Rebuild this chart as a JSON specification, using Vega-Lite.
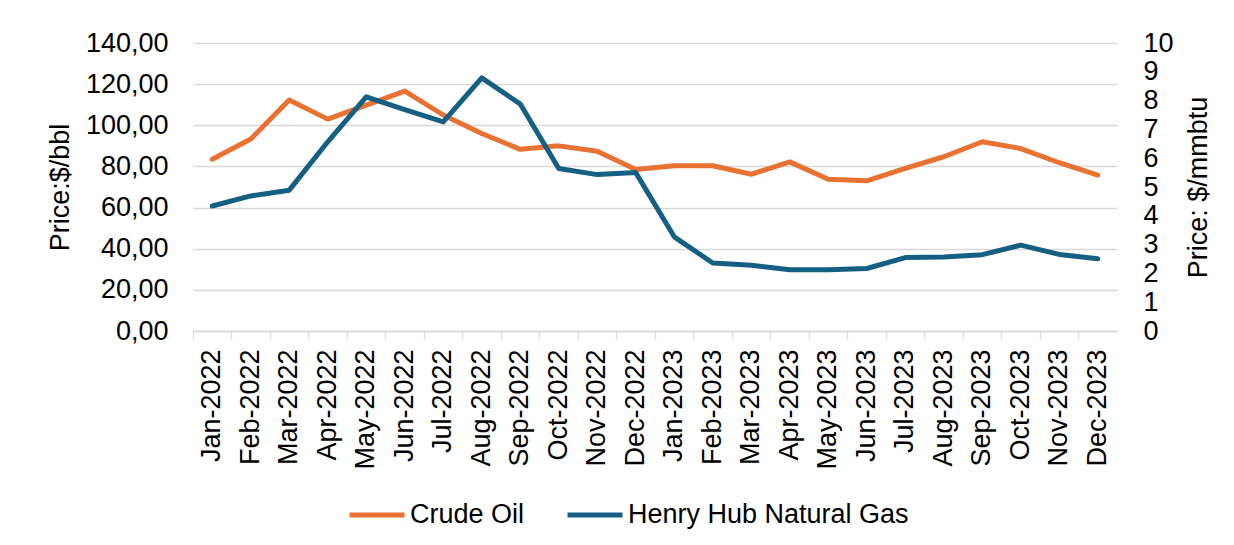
{
  "$schema": "https://vega.github.io/schema/vega-lite/v6.json",
  "autosize": {"type": "none"},
  "padding": {"left": 193, "top": 43, "right": 117, "bottom": 214},
  "width": 924,
  "height": 288,
  "background": "white",
  "config": {
    "view": {"stroke": null},
    "font": "Liberation Sans",
    "axis": {"labelFont": "Liberation Sans", "titleFont": "Liberation Sans", "labelFontSize": 27, "titleFontSize": 27, "labelColor": "#000000", "titleColor": "#000000", "titleFontWeight": "normal"},
    "legend": {"labelFont": "Liberation Sans", "labelFontSize": 27, "labelColor": "#000000", "labelLimit": 0}
  },
  "data": {
    "values": [
      {"month": "Jan-2022", "series": "Crude Oil", "price": 83.5},
      {"month": "Feb-2022", "series": "Crude Oil", "price": 93.3},
      {"month": "Mar-2022", "series": "Crude Oil", "price": 112.3},
      {"month": "Apr-2022", "series": "Crude Oil", "price": 103.0},
      {"month": "May-2022", "series": "Crude Oil", "price": 109.8},
      {"month": "Jun-2022", "series": "Crude Oil", "price": 116.6},
      {"month": "Jul-2022", "series": "Crude Oil", "price": 105.0},
      {"month": "Aug-2022", "series": "Crude Oil", "price": 96.0},
      {"month": "Sep-2022", "series": "Crude Oil", "price": 88.3},
      {"month": "Oct-2022", "series": "Crude Oil", "price": 90.0},
      {"month": "Nov-2022", "series": "Crude Oil", "price": 87.4},
      {"month": "Dec-2022", "series": "Crude Oil", "price": 78.5},
      {"month": "Jan-2023", "series": "Crude Oil", "price": 80.3},
      {"month": "Feb-2023", "series": "Crude Oil", "price": 80.3},
      {"month": "Mar-2023", "series": "Crude Oil", "price": 76.2},
      {"month": "Apr-2023", "series": "Crude Oil", "price": 82.2},
      {"month": "May-2023", "series": "Crude Oil", "price": 73.8},
      {"month": "Jun-2023", "series": "Crude Oil", "price": 73.0},
      {"month": "Jul-2023", "series": "Crude Oil", "price": 79.0},
      {"month": "Aug-2023", "series": "Crude Oil", "price": 84.7},
      {"month": "Sep-2023", "series": "Crude Oil", "price": 92.0},
      {"month": "Oct-2023", "series": "Crude Oil", "price": 88.7},
      {"month": "Nov-2023", "series": "Crude Oil", "price": 81.8},
      {"month": "Dec-2023", "series": "Crude Oil", "price": 75.8},
      {"month": "Jan-2022", "series": "Henry Hub Natural Gas", "price": 4.34},
      {"month": "Feb-2022", "series": "Henry Hub Natural Gas", "price": 4.69},
      {"month": "Mar-2022", "series": "Henry Hub Natural Gas", "price": 4.89},
      {"month": "Apr-2022", "series": "Henry Hub Natural Gas", "price": 6.57},
      {"month": "May-2022", "series": "Henry Hub Natural Gas", "price": 8.13},
      {"month": "Jun-2022", "series": "Henry Hub Natural Gas", "price": 7.69},
      {"month": "Jul-2022", "series": "Henry Hub Natural Gas", "price": 7.26},
      {"month": "Aug-2022", "series": "Henry Hub Natural Gas", "price": 8.79},
      {"month": "Sep-2022", "series": "Henry Hub Natural Gas", "price": 7.88},
      {"month": "Oct-2022", "series": "Henry Hub Natural Gas", "price": 5.64},
      {"month": "Nov-2022", "series": "Henry Hub Natural Gas", "price": 5.43},
      {"month": "Dec-2022", "series": "Henry Hub Natural Gas", "price": 5.50},
      {"month": "Jan-2023", "series": "Henry Hub Natural Gas", "price": 3.27},
      {"month": "Feb-2023", "series": "Henry Hub Natural Gas", "price": 2.36},
      {"month": "Mar-2023", "series": "Henry Hub Natural Gas", "price": 2.28},
      {"month": "Apr-2023", "series": "Henry Hub Natural Gas", "price": 2.13},
      {"month": "May-2023", "series": "Henry Hub Natural Gas", "price": 2.13},
      {"month": "Jun-2023", "series": "Henry Hub Natural Gas", "price": 2.17},
      {"month": "Jul-2023", "series": "Henry Hub Natural Gas", "price": 2.55},
      {"month": "Aug-2023", "series": "Henry Hub Natural Gas", "price": 2.57},
      {"month": "Sep-2023", "series": "Henry Hub Natural Gas", "price": 2.65},
      {"month": "Oct-2023", "series": "Henry Hub Natural Gas", "price": 2.98},
      {"month": "Nov-2023", "series": "Henry Hub Natural Gas", "price": 2.66},
      {"month": "Dec-2023", "series": "Henry Hub Natural Gas", "price": 2.51}
    ]
  },
  "encoding": {
    "x": {
      "field": "month",
      "type": "nominal",
      "sort": null,
      "scale": {"type": "band", "paddingInner": 0, "paddingOuter": 0},
      "axis": {
        "title": null,
        "bandPosition": 0,
        "labelAngle": -90,
        "labelAlign": "right",
        "labelBaseline": "middle",
        "labelPadding": 10,
        "ticks": true,
        "tickSize": 8,
        "tickColor": "#d9d9d9",
        "tickWidth": 1.3,
        "domain": true,
        "domainColor": "#d9d9d9",
        "domainWidth": 1.3,
        "grid": false
      }
    },
    "color": {
      "field": "series",
      "type": "nominal",
      "scale": {"domain": ["Crude Oil", "Henry Hub Natural Gas"], "range": ["#E97132", "#156082"]},
      "legend": {
        "title": null,
        "orient": "none",
        "direction": "horizontal",
        "legendX": 154,
        "legendY": 442,
        "padding": 0,
        "symbolType": "stroke",
        "symbolSize": 3025,
        "symbolStrokeWidth": 5,
        "labelOffset": 3,
        "columnPadding": 32
      }
    }
  },
  "layer": [
    {
      "transform": [{"filter": "datum.series === 'Crude Oil'"}],
      "mark": {"type": "line", "strokeWidth": 5, "strokeCap": "round", "strokeJoin": "round"},
      "encoding": {
        "y": {
          "field": "price",
          "type": "quantitative",
          "scale": {"domain": [0, 140], "nice": false},
          "axis": {
            "title": "Price:$/bbl",
            "orient": "left",
            "values": [0, 20, 40, 60, 80, 100, 120, 140],
            "labelExpr": "replace(format(datum.value, '.2f'), '.', ',')",
            "domain": false,
            "ticks": false,
            "labelPadding": 25,
            "titlePadding": 11,
            "grid": true,
            "gridColor": "#d9d9d9",
            "gridWidth": 1.3
          }
        }
      }
    },
    {
      "transform": [{"filter": "datum.series === 'Henry Hub Natural Gas'"}],
      "mark": {"type": "line", "strokeWidth": 5, "strokeCap": "round", "strokeJoin": "round"},
      "encoding": {
        "y": {
          "field": "price",
          "type": "quantitative",
          "scale": {"domain": [0, 10], "nice": false},
          "axis": {
            "title": "Price: $/mmbtu",
            "orient": "right",
            "values": [0, 1, 2, 3, 4, 5, 6, 7, 8, 9, 10],
            "format": "d",
            "domain": false,
            "ticks": false,
            "labelPadding": 26,
            "titleAngle": 270,
            "titleBaseline": "top",
            "titlePadding": 12,
            "grid": false
          }
        }
      }
    }
  ],
  "resolve": {"scale": {"y": "independent"}}
}
